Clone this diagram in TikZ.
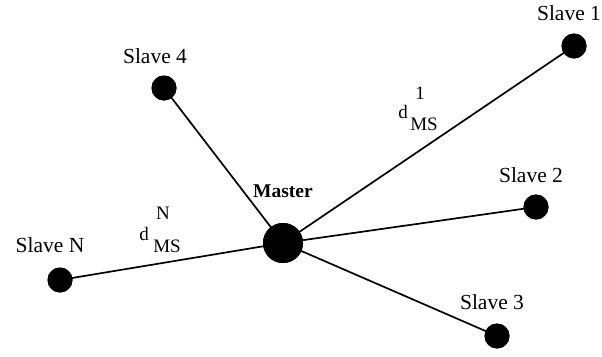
\documentclass[tikz,border=0pt]{standalone}
\usepackage{fontspec}
\setmainfont{Liberation Serif}
\begin{document}
\begin{tikzpicture}[x=1pt,y=-1pt,
  slave/.style={circle,fill=black,minimum size=25pt,inner sep=0pt},
  master/.style={circle,fill=black,minimum size=40pt,inner sep=0pt},
  link/.style={line width=1.7pt},
  lbl/.style={anchor=base,inner sep=0pt,font=\fontsize{21.5}{24}\selectfont},
  dlbl/.style={anchor=base,inner sep=0pt,font=\fontsize{19}{22}\selectfont}]
\useasboundingbox (0,0) rectangle (602,356);
\node[master] (m) at (283,243) {};
\node[slave] (s1) at (574,46) {};
\node[slave] (s2) at (536,207) {};
\node[slave] (s3) at (497,336) {};
\node[slave] (s4) at (164,88) {};
\node[slave] (sn) at (60,280) {};
\draw[link] (m.center) -- (s1.center);
\draw[link] (m.center) -- (s2.center);
\draw[link] (m.center) -- (s3.center);
\draw[link] (m.center) -- (s4.center);
\draw[link] (m.center) -- (sn.center);
\node[master] at (m) {};
\node[slave] at (s1) {};
\node[slave] at (s2) {};
\node[slave] at (s3) {};
\node[slave] at (s4) {};
\node[slave] at (sn) {};
\node[lbl] (l1) at (569,20) {Slave 1};
\node[lbl] (l2) at (531,182) {Slave 2};
\node[lbl] (l3) at (492,309) {Slave 3};
\node[lbl] (l4) at (155,63) {Slave 4};
\node[lbl] (ln) at (50,252) {Slave N};
\node[anchor=base,inner sep=0pt,font=\fontsize{19.5}{22}\selectfont\bfseries] (lm) at (283,197) {Master};
\node[dlbl] (d1) at (403,118) {d};
\node[dlbl] (d1sup) at (420,99) {1};
\node[dlbl] (d1sub) at (424,130) {MS};
\node[dlbl] (dn) at (144,240) {d};
\node[dlbl] (dnsup) at (163,219) {N};
\node[dlbl] (dnsub) at (167,252) {MS};
\end{tikzpicture}
\end{document}
